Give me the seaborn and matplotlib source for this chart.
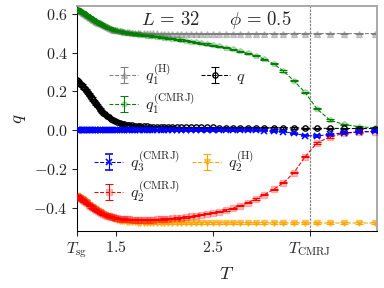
import matplotlib
matplotlib.use("Agg")
import matplotlib.pyplot as plt
import seaborn as sns

# temperaturas (pontos da simulacao)
T = [1.099, 1.111, 1.124, 1.136, 1.149, 1.163, 1.176, 1.190, 1.205, 1.220,
     1.235, 1.250, 1.266, 1.282, 1.299, 1.316, 1.333, 1.351, 1.370, 1.389,
     1.408, 1.429, 1.449, 1.471, 1.493, 1.515, 1.538, 1.563, 1.587, 1.613,
     1.639, 1.667, 1.695, 1.724, 1.754, 1.786, 1.818, 1.852, 1.887, 1.923,
     1.961, 2.000, 2.041, 2.083, 2.128, 2.174, 2.222, 2.273, 2.326, 2.381,
     2.439, 2.500, 2.564, 2.632, 2.703, 2.778, 2.857, 2.941, 3.030, 3.125,
     3.226, 3.333, 3.448, 3.571, 3.704, 3.846, 4.000, 4.167]

q1_H = [0.625, 0.621, 0.617, 0.613, 0.609, 0.604, 0.600, 0.595, 0.590, 0.585,
        0.580, 0.575, 0.570, 0.565, 0.560, 0.555, 0.550, 0.545, 0.540, 0.535,
        0.531, 0.527, 0.523, 0.519, 0.516, 0.514, 0.511, 0.509, 0.507, 0.505,
        0.504, 0.503, 0.502, 0.501, 0.500, 0.500, 0.499, 0.499, 0.499, 0.499,
        0.498, 0.498, 0.498, 0.498, 0.498, 0.498, 0.498, 0.498, 0.498, 0.498,
        0.498, 0.498, 0.498, 0.498, 0.498, 0.498, 0.498, 0.498, 0.498, 0.498,
        0.498, 0.498, 0.498, 0.498, 0.498, 0.498, 0.498, 0.498]

q1_C = [0.625, 0.621, 0.617, 0.613, 0.609, 0.604, 0.600, 0.595, 0.590, 0.585,
        0.580, 0.575, 0.570, 0.565, 0.560, 0.555, 0.550, 0.545, 0.540, 0.535,
        0.531, 0.527, 0.523, 0.519, 0.516, 0.512, 0.509, 0.507, 0.505, 0.503,
        0.501, 0.499, 0.496, 0.494, 0.492, 0.490, 0.488, 0.486, 0.484, 0.482,
        0.479, 0.476, 0.474, 0.471, 0.468, 0.465, 0.461, 0.457, 0.453, 0.449,
        0.444, 0.438, 0.432, 0.425, 0.417, 0.407, 0.396, 0.383, 0.366, 0.342,
        0.305, 0.255, 0.195, 0.110, 0.052, 0.030, 0.018, 0.012]

q_tot = [0.258, 0.252, 0.246, 0.240, 0.233, 0.225, 0.217, 0.208, 0.198, 0.188,
         0.177, 0.166, 0.155, 0.144, 0.133, 0.122, 0.111, 0.101, 0.091, 0.082,
         0.074, 0.066, 0.059, 0.053, 0.047, 0.042, 0.038, 0.034, 0.031, 0.029,
         0.027, 0.025, 0.023, 0.022, 0.021, 0.020, 0.019, 0.018, 0.018, 0.017,
         0.017, 0.016, 0.016, 0.016, 0.015, 0.015, 0.015, 0.015, 0.014, 0.014,
         0.014, 0.014, 0.013, 0.013, 0.013, 0.013, 0.012, 0.012, 0.012, 0.011,
         0.011, 0.011, 0.010, 0.010, 0.009, 0.009, 0.008, 0.008]

q3_C = [-0.001] * 58 + [-0.003, -0.005, -0.008, -0.016, -0.028, -0.030,
                        -0.022, -0.014, -0.009, -0.006]

q2_C = [-0.340, -0.344, -0.348, -0.352, -0.357, -0.362, -0.367, -0.372, -0.378, -0.384,
        -0.390, -0.396, -0.402, -0.408, -0.414, -0.419, -0.424, -0.429, -0.433, -0.437,
        -0.441, -0.444, -0.447, -0.450, -0.452, -0.454, -0.456, -0.457, -0.458, -0.459,
        -0.460, -0.461, -0.461, -0.462, -0.462, -0.462, -0.462, -0.461, -0.461, -0.460,
        -0.459, -0.458, -0.457, -0.455, -0.453, -0.451, -0.448, -0.445, -0.441, -0.437,
        -0.432, -0.426, -0.420, -0.412, -0.402, -0.390, -0.375, -0.355, -0.333, -0.305,
        -0.272, -0.220, -0.138, -0.066, -0.035, -0.017, -0.010, -0.007]

q2_H = [-0.340, -0.344, -0.348, -0.352, -0.357, -0.362, -0.367, -0.372, -0.378, -0.384,
        -0.390, -0.396, -0.402, -0.408, -0.414, -0.419, -0.424, -0.429, -0.433, -0.437,
        -0.441, -0.445, -0.450, -0.455, -0.459, -0.463, -0.466, -0.469, -0.471, -0.473,
        -0.474, -0.475, -0.476, -0.477, -0.478, -0.478, -0.479, -0.479, -0.479, -0.479,
        -0.479, -0.479, -0.479, -0.479, -0.479, -0.479, -0.479, -0.479, -0.479, -0.479,
        -0.479, -0.479, -0.479, -0.479, -0.479, -0.479, -0.479, -0.479, -0.479, -0.479,
        -0.479, -0.479, -0.479, -0.479, -0.479, -0.479, -0.479, -0.479]

erro = 0.003
T_sg = 1.1
T_cmrj = 3.5

sns.set_theme(style="ticks")
plt.rcParams["font.family"] = "serif"
plt.rcParams["font.serif"] = ["cmr10", "DejaVu Serif"]
plt.rcParams["mathtext.fontset"] = "cm"
plt.rcParams["axes.unicode_minus"] = True

fig = plt.figure(figsize=(4, 3), dpi=96)
ax = fig.add_axes([0.2005, 0.198, 0.7813, 0.781])

estilo = dict(ls="--", lw=0.8, ms=4, capsize=3, elinewidth=0.8, capthick=0.8)

h1 = ax.errorbar(T, q1_H, yerr=erro, color="gray", marker="^", mfc=(0.5, 0.5, 0.5, 0.4),
                 label=r"$q_1^{(\mathrm{H})}$", zorder=2, **estilo)
h2 = ax.errorbar(T, q1_C, yerr=erro, color="green", marker="p", mfc=(0, 0.5, 0, 0.25),
                 label=r"$q_1^{(\mathrm{CMRJ})}$", zorder=3, **estilo)
h3 = ax.errorbar(T, q_tot, yerr=erro, color="black", marker="o", mfc="none",
                 label=r"$q$", zorder=3, **estilo)
h4 = ax.errorbar(T, q3_C, yerr=erro, color="blue", marker="x", mew=1.2,
                 label=r"$q_3^{(\mathrm{CMRJ})}$", zorder=4, **estilo)
h6 = ax.errorbar(T, q2_H, yerr=erro, color="orange", marker="v", mfc=(1, 0.65, 0, 0.6),
                 label=r"$q_2^{(\mathrm{H})}$", zorder=2, **estilo)
h5 = ax.errorbar(T, q2_C, yerr=erro, color="red", marker="s", mfc=(1, 0, 0, 0.25),
                 label=r"$q_2^{(\mathrm{CMRJ})}$", zorder=3, **estilo)

ax.axvline(T_cmrj, color="gray", ls=(0, (2, 1)), lw=0.9, zorder=1, clip_on=False)

ax.set_xlim(T_sg, 4.19)
ax.set_ylim(-0.52, 0.64)
ax.set_xticks([T_sg, 1.5, 2.5, T_cmrj],
              [r"$T_{\mathrm{sg}}$", r"$1.5$", r"$2.5$", r"$T_{\mathrm{CMRJ}}$"])
ax.set_yticks([-0.4, -0.2, 0.0, 0.2, 0.4, 0.6],
              [r"$-0.4$", r"$-0.2$", r"$0.0$", r"$0.2$", r"$0.4$", r"$0.6$"])
ax.tick_params(labelsize=12, length=3.5, width=0.8, direction="out")
ax.set_xlabel(r"$T$", fontsize=14)
ax.set_ylabel(r"$q$", fontsize=14)

for lado in ["top", "right"]:
    ax.spines[lado].set_color("#aaaaaa")
    ax.spines[lado].set_linewidth(1.5)
for lado in ["left", "bottom"]:
    ax.spines[lado].set_color("black")
    ax.spines[lado].set_linewidth(0.8)

ax.text(0.31, 0.94, r"$L\,=\,32$", transform=ax.transAxes, fontsize=14, ha="center", va="center")
ax.text(0.61, 0.94, r"$\phi\,=\,0.5$", transform=ax.transAxes, fontsize=14, ha="center", va="center")

leg1 = ax.legend(handles=[h1, h2, h3], ncol=2, loc="upper left", bbox_to_anchor=(0.06, 0.815),
                 frameon=False, fontsize=12, handlelength=1.8, columnspacing=0.4,
                 labelspacing=0.25, handletextpad=0.4)
ax.add_artist(leg1)
ax.legend(handles=[h4, h5, h6], ncol=2, loc="upper left", bbox_to_anchor=(0.01, 0.43),
          frameon=False, fontsize=12, handlelength=1.8, columnspacing=0.8,
          labelspacing=0.35, handletextpad=0.4)

fig.savefig("out.png", dpi=96)
